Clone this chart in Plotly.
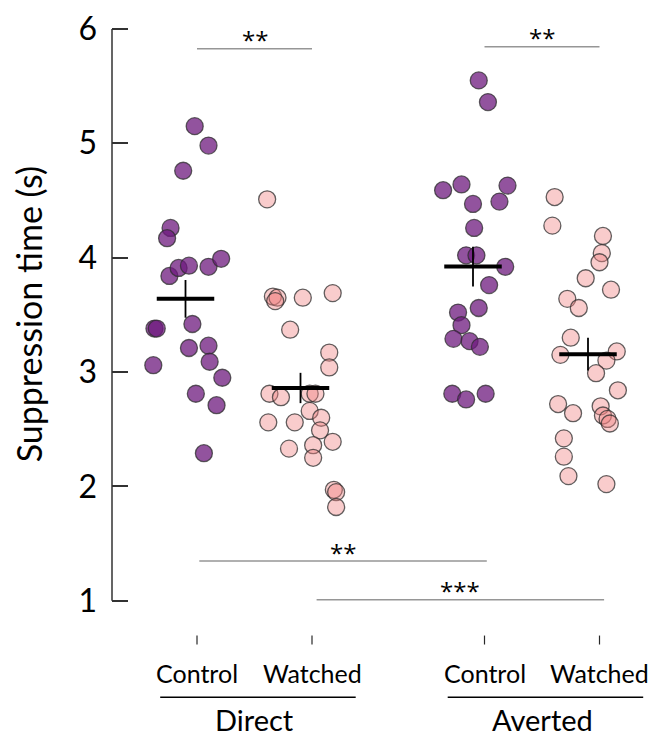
import numpy as np
import plotly.graph_objects as go

# ---------------- data ----------------
groups = ["Direct", "Averted"]
conditions = ["Control", "Watched", "Control", "Watched"]
y_ticks = [1, 2, 3, 4, 5, 6]

direct_control = [5.15, 4.98, 4.76, 4.26, 4.17, 3.84, 3.91, 3.93, 3.92, 3.99, 3.38,
                  3.38, 3.42, 3.21, 3.23, 3.09, 3.06, 2.95, 2.81, 2.71, 2.29]
direct_control_jitter = [-0.02, 0.10, -0.12, -0.23, -0.26, -0.24, -0.16, -0.07, 0.10, 0.21, -0.37,
                         -0.35, -0.04, -0.07, 0.10, 0.11, -0.38, 0.22, -0.01, 0.17, 0.06]

direct_watched = [4.51, 3.66, 3.65, 3.62, 3.65, 3.69, 3.37, 3.17, 3.04, 2.81, 2.78, 2.81, 2.81,
                  2.66, 2.60, 2.49, 2.56, 2.56, 2.39, 2.36, 2.33, 2.25, 1.97, 1.95, 1.82]
direct_watched_jitter = [-0.39, -0.34, -0.30, -0.32, -0.08, 0.18, -0.19, 0.15, 0.15, -0.37, -0.27, -0.02, 0.03,
                         -0.02, 0.08, 0.07, -0.38, -0.15, 0.18, 0.01, -0.20, 0.01, 0.19, 0.21, 0.21]

averted_control = [5.55, 5.36, 4.59, 4.64, 4.63, 4.47, 4.49, 4.26, 4.02, 4.02, 3.92,
                   3.76, 3.56, 3.52, 3.41, 3.29, 3.27, 3.22, 2.81, 2.76, 2.81]
averted_control_jitter = [-0.05, 0.03, -0.36, -0.20, 0.20, -0.10, 0.13, -0.09, -0.16, -0.07, 0.18,
                          0.04, -0.05, -0.23, -0.20, -0.27, -0.13, -0.04, -0.28, -0.16, 0.01]

averted_watched = [4.53, 4.28, 4.19, 4.04, 3.96, 3.82, 3.72, 3.64, 3.56, 3.30, 3.15, 3.18, 3.10,
                   2.99, 2.84, 2.72, 2.64, 2.70, 2.62, 2.59, 2.55, 2.42, 2.26, 2.09, 2.02]
averted_watched_jitter = [-0.39, -0.41, 0.03, 0.02, 0.00, -0.12, 0.10, -0.28, -0.18, -0.25, -0.34, 0.15, 0.06,
                          -0.03, 0.16, -0.36, -0.23, 0.01, 0.03, 0.07, 0.09, -0.31, -0.31, -0.27, 0.06]

sig_pairs = [(0, 1, "**"), (2, 3, "**"), (0, 2, "**"), (1, 3, "***")]

# ---------------- layout constants (page pixels; page body has an 8px margin) ----------------
PAGE_OFF = 8
W, H = 662 - PAGE_OFF, 737 - PAGE_OFF
PLOT_L, PLOT_R, PLOT_T, PLOT_B = 112, 650, 12, 737   # page pixel edges of plot area
Y6_PX = 25                                            # page pixel of y = 6
ML = PLOT_L - PAGE_OFF
MT = PLOT_T - PAGE_OFF
MR = (PAGE_OFF + W) - PLOT_R
MB = (PAGE_OFF + H) - PLOT_B
PX_PER_X = 115.0
PX_PER_Y = 115.0
X0_PX = 197.0  # page pixel of category position 0

cat_pos = [0.0, 1.0, 2.5, 3.5]
group_centers = [0.5, 3.0]

def px2x(px):
    return (px - X0_PX) / PX_PER_X

def py2y(py):
    return 6 - (py - Y6_PX) / PX_PER_Y

x_range = [px2x(PLOT_L), px2x(PLOT_R)]
y_range = [py2y(PLOT_B), py2y(PLOT_T)]

FONT = "Lato"
purple_fill = "rgba(110,25,125,0.75)"
pink_fill = "rgba(240,128,128,0.40)"
edge = "rgba(45,45,45,0.75)"

series = [
    (direct_control, direct_control_jitter, purple_fill),
    (direct_watched, direct_watched_jitter, pink_fill),
    (averted_control, averted_control_jitter, purple_fill),
    (averted_watched, averted_watched_jitter, pink_fill),
]

fig = go.Figure()

for (vals, jit, fill), pos in zip(series, cat_pos):
    xs = [pos + j for j in jit]
    fig.add_trace(go.Scatter(
        x=xs, y=vals, mode="markers", showlegend=False, hoverinfo="y",
        marker=dict(size=17, color=fill, line=dict(color=edge, width=1.3)),
        cliponaxis=False,
    ))

# mean +- SEM crosses
CROSS_OFF = -0.10
HALF_W = 0.25
for (vals, jit, fill), pos in zip(series, cat_pos):
    arr = np.array(vals)
    m = arr.mean()
    sem = arr.std(ddof=1) / np.sqrt(len(arr))
    cx = pos + CROSS_OFF
    fig.add_trace(go.Scatter(x=[cx - HALF_W, cx + HALF_W], y=[m, m], mode="lines",
                             line=dict(color="black", width=4), showlegend=False, hoverinfo="skip"))
    fig.add_trace(go.Scatter(x=[cx, cx], y=[m - sem, m + sem], mode="lines",
                             line=dict(color="black", width=1.8), showlegend=False, hoverinfo="skip"))

shapes = []
annotations = []

# y axis line (1..6)
shapes.append(dict(type="line", xref="paper", yref="y", x0=0, x1=0, y0=1, y1=6,
                   line=dict(color="rgb(50,50,50)", width=1.5)))

# significance brackets
bracket_y = [py2y(45), py2y(43), py2y(560), py2y(599)]
text_y = [py2y(36), py2y(34), py2y(551), py2y(590)]
bracket_shift = [0, 0, 0.02, 0.04]
for (i, j, lab), by, ty, sh in zip(sig_pairs, bracket_y, text_y, bracket_shift):
    xa, xb = cat_pos[i] + sh, cat_pos[j] + sh
    shapes.append(dict(type="line", xref="x", yref="y", x0=xa, x1=xb, y0=by, y1=by,
                       line=dict(color="rgb(150,150,150)", width=1.5)))
    annotations.append(dict(x=(xa + xb) / 2, y=ty, xref="x", yref="y", text=lab,
                            showarrow=False, xanchor="center", yanchor="middle",
                            font=dict(family="Open Sans", size=24, color="black")))

# x tick marks
for pos in cat_pos:
    shapes.append(dict(type="line", xref="x", yref="y", x0=pos, x1=pos,
                       y0=py2y(635), y1=py2y(644),
                       line=dict(color="rgb(40,40,40)", width=1.2)))

# category labels
for pos, lab in zip(cat_pos, conditions):
    annotations.append(dict(x=pos, y=py2y(673), xref="x", yref="y", text=lab,
                            showarrow=False, xanchor="center", yanchor="middle",
                            font=dict(family=FONT, size=25, color="black")))

# group underline + group labels
for gc, g in zip(group_centers, groups):
    shapes.append(dict(type="line", xref="x", yref="y", x0=gc + 0.03 - 0.85, x1=gc + 0.03 + 0.85,
                       y0=py2y(697), y1=py2y(697), line=dict(color="black", width=1.5)))
    annotations.append(dict(x=gc, y=py2y(719), xref="x", yref="y", text=g,
                            showarrow=False, xanchor="center", yanchor="middle",
                            font=dict(family=FONT, size=29, color="black")))

# y title
plot_w = PLOT_R - PLOT_L
annotations.append(dict(x=(28 - PLOT_L) / plot_w, y=py2y(312), xref="paper", yref="y",
                        text="Suppression time (s)", textangle=-90, showarrow=False,
                        xanchor="center", yanchor="middle",
                        font=dict(family=FONT, size=34, color="black")))

fig.update_layout(
    width=W, height=H,
    margin=dict(l=ML, r=MR, t=MT, b=MB, pad=0),
    paper_bgcolor="white", plot_bgcolor="white",
    showlegend=False,
    shapes=shapes, annotations=annotations,
    xaxis=dict(range=x_range, visible=False, fixedrange=True),
    yaxis=dict(range=y_range, tickvals=y_ticks, ticktext=[str(t) for t in y_ticks],
               ticks="inside", ticklen=16, tickwidth=1.5, tickcolor="rgb(50,50,50)",
               showline=False, showgrid=False, zeroline=False,
               tickfont=dict(family=FONT, size=32, color="black"),
               ticklabelstandoff=14, ticklabeloverflow="allow", fixedrange=True),
)

fig.write_html("out.html")
